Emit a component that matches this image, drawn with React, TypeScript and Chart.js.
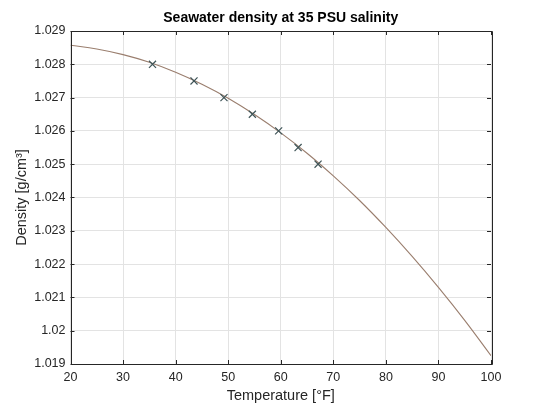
import { useEffect, useRef } from "react"
import { Chart, registerables } from "chart.js"

Chart.register(...registerables)

// fitted density curve, read every 5 °F
const curveTemps = [20, 25, 30, 35, 40, 45, 50, 55, 60, 65, 70, 75, 80, 85, 90, 95, 100]
const curveDensity = [
  1.02857, 1.02846, 1.02829, 1.02806, 1.02776, 1.0274, 1.02698, 1.02649, 1.02594,
  1.02533, 1.02465, 1.02391, 1.0231, 1.02223, 1.0213, 1.02031, 1.01925,
]

// measured points (x markers)
const sampleTemps = [35.6, 43.5, 49.2, 54.6, 59.6, 63.3, 67.1]
const sampleDensity = [1.028, 1.0275, 1.027, 1.0265, 1.026, 1.0255, 1.025]

const xTicks = [20, 30, 40, 50, 60, 70, 80, 90, 100]
const yTicks = [1.019, 1.02, 1.021, 1.022, 1.023, 1.024, 1.025, 1.026, 1.027, 1.028, 1.029]

const AXIS_COLOR = "#262626"
const FONT = "'Liberation Sans', Arial, sans-serif"

// MATLAB style box with inward ticks + title centred on the plot area
const boxPlugin = {
  id: "matlabBox",
  afterDraw(chart: any) {
    const { ctx, chartArea } = chart
    const { left, right, top, bottom } = chartArea
    const xs = chart.scales.x
    const ys = chart.scales.y
    ctx.save()
    ctx.strokeStyle = AXIS_COLOR
    ctx.lineWidth = 1
    ctx.beginPath()
    ctx.rect(Math.round(left) + 0.5, Math.round(top) + 0.5, Math.round(right - left), Math.round(bottom - top))
    ctx.stroke()
    const len = 4
    ctx.beginPath()
    xTicks.forEach((t) => {
      const px = Math.round(xs.getPixelForValue(t)) + 0.5
      ctx.moveTo(px, bottom)
      ctx.lineTo(px, bottom - len)
      ctx.moveTo(px, top)
      ctx.lineTo(px, top + len)
    })
    yTicks.forEach((t) => {
      const py = Math.round(ys.getPixelForValue(t)) + 0.5
      ctx.moveTo(left, py)
      ctx.lineTo(left + len, py)
      ctx.moveTo(right, py)
      ctx.lineTo(right - len, py)
    })
    ctx.stroke()

    ctx.fillStyle = "#000"
    ctx.font = `bold 14px ${FONT}`
    ctx.textAlign = "center"
    ctx.textBaseline = "alphabetic"
    ctx.fillText("Seawater density at 35 PSU salinity", (left + right) / 2, 22)
    ctx.restore()
  },
}

export default function App() {
  const chartRef = useRef<HTMLCanvasElement>(null)
  const chartInstance = useRef<Chart | null>(null)

  useEffect(() => {
    if (!chartRef.current) return
    if (chartInstance.current) chartInstance.current.destroy()

    chartInstance.current = new Chart(chartRef.current, {
      type: "line",
      data: {
        datasets: [
          {
            label: "samples",
            data: sampleTemps.map((t, i) => ({ x: t, y: sampleDensity[i] })),
            showLine: false,
            pointStyle: "crossRot",
            pointRadius: 5,
            pointBorderWidth: 1.2,
            borderColor: "#3f5558",
            backgroundColor: "#3f5558",
          },
          {
            label: "fit",
            data: curveTemps.map((t, i) => ({ x: t, y: curveDensity[i] })),
            borderColor: "#9a7e6e",
            borderWidth: 1.1,
            pointRadius: 0,
            tension: 0.4,
            fill: false,
          },
        ],
      },
      options: {
        animation: false,
        responsive: true,
        maintainAspectRatio: false,
        layout: { padding: { top: 31, right: 49, left: 0, bottom: 0 } },
        plugins: {
          legend: { display: false },
          title: { display: false },
          tooltip: { enabled: false },
        },
        scales: {
          x: {
            type: "linear",
            min: 20,
            max: 100,
            afterBuildTicks: (scale: any) => {
              scale.ticks = xTicks.map((v) => ({ value: v }))
            },
            afterFit: (scale: any) => {
              scale.height = 41
            },
            ticks: {
              padding: 6,
              color: AXIS_COLOR,
              font: { family: FONT, size: 12.5 },
              callback: (v: any) => String(v),
            },
            grid: { color: "#e3e3e3", drawTicks: false },
            border: { display: false },
            title: {
              display: true,
              text: "Temperature [°F]",
              color: AXIS_COLOR,
              font: { family: FONT, size: 14.5 },
              padding: { top: 0, bottom: 0 },
            },
          },
          y: {
            type: "linear",
            min: 1.019,
            max: 1.029,
            afterBuildTicks: (scale: any) => {
              scale.ticks = yTicks.map((v) => ({ value: v }))
            },
            afterFit: (scale: any) => {
              scale.width = 70.5
            },
            ticks: {
              padding: 5,
              color: AXIS_COLOR,
              font: { family: FONT, size: 12.5 },
              callback: (v: any) => String(Number(Number(v).toFixed(3))),
            },
            grid: { color: "#e3e3e3", drawTicks: false },
            border: { display: false },
            title: {
              display: true,
              text: "Density [g/cm³]",
              color: AXIS_COLOR,
              font: { family: FONT, size: 14.5 },
              padding: { top: 13, bottom: 0 },
            },
          },
        },
      },
      plugins: [boxPlugin],
    })

    return () => {
      if (chartInstance.current) {
        chartInstance.current.destroy()
        chartInstance.current = null
      }
    }
  }, [])

  return (
    <div style={{ position: "absolute", left: 0, top: 0, width: 540, height: 405, background: "#fff" }}>
      <canvas ref={chartRef} />
    </div>
  )
}
